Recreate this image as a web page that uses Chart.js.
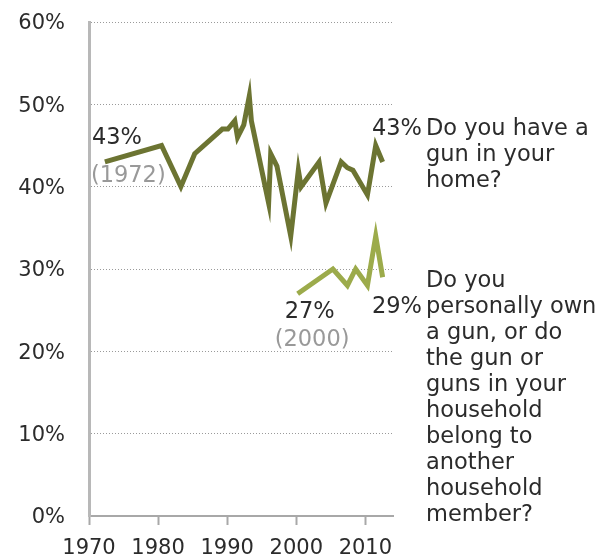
<!DOCTYPE html>
<html>
<head>
<meta charset="utf-8">
<script src="https://cdn.jsdelivr.net/npm/chart.js@4/dist/chart.umd.min.js"></script>
<style>
  html, body { margin: 0; padding: 0; background: #fff; }
  #wrap { width: 609px; height: 558px; position: relative; }
</style>
</head>
<body>
<div id="wrap"><canvas id="chart" width="609" height="558"></canvas></div>
<script>
// "Do you have a gun in your home?"
const homeYears  = [1972.3, 1980.5, 1983.3, 1985.3, 1989.3, 1990.1, 1991.1, 1991.5, 1992.4, 1993.2, 1993.5, 1996.0, 1996.3, 1997.2, 1999.2, 2000.3, 2000.7, 2003.3, 2004.3, 2006.5, 2007.4, 2008.2, 2010.3, 2011.5, 2012.5]
const homeValues = [43,     45,     40,     44,     47,     47,     48,     46,     47.5,   51,     48,     38,     44,     42.5,   34,     42,     40,     43,     38,     43,     42.3,   42,     39,     45,     43]

// "Do you personally own a gun, or ... another household member?"
const ownYears  = [2000.2, 2005.3, 2007.4, 2008.6, 2010.3, 2011.5, 2012.5]
const ownValues = [27,     30,     28,     30,     28,     34,     29]

const xTicks = [1970, 1980, 1990, 2000, 2010]
const yTicks = [0, 10, 20, 30, 40, 50, 60]

const homeQuestion = ['Do you have a', 'gun in your', 'home?']
const ownQuestion  = ['Do you', 'personally own', 'a gun, or do', 'the gun or', 'guns in your', 'household', 'belong to', 'another', 'household', 'member?']

const FONT = '"DejaVu Sans", Verdana, sans-serif'
const TEXT = '#2b2b2b'
const GREY_TEXT = '#999999'

const toPoints = (xs, ys) => xs.map((x, i) => ({ x, y: ys[i] }))

const annotations = {
  id: 'annotations',
  afterDatasetsDraw(chart) {
    const { ctx, scales: { x, y }, chartArea } = chart
    const line = 26
    ctx.save()
    ctx.font = `22.5px ${FONT}`
    ctx.textBaseline = 'alphabetic'

    // first/last values of the home series
    const hx0 = x.getPixelForValue(homeYears[0])
    const hy0 = y.getPixelForValue(homeValues[0])
    ctx.fillStyle = TEXT
    ctx.textAlign = 'left'
    ctx.fillText(`${homeValues[0]}%`, hx0 - 13, hy0 - 18)
    ctx.fillStyle = GREY_TEXT
    ctx.fillText(`(${Math.floor(homeYears[0])})`, hx0 - 14, hy0 + 20)

    // first value of the own series
    const ox0 = x.getPixelForValue(ownYears[0])
    const oy0 = y.getPixelForValue(ownValues[0])
    ctx.fillStyle = TEXT
    ctx.fillText(`${ownValues[0]}%`, ox0 - 13, oy0 + 24)
    ctx.fillStyle = GREY_TEXT
    ctx.fillText(`(${Math.floor(ownYears[0])})`, ox0 - 23, oy0 + 52)

    // right side: last values + questions
    const qx = chartArea.right + 33
    const homeBase = y.getPixelForValue(homeValues[homeValues.length - 1]) - 27
    const ownBase = y.getPixelForValue(ownValues[ownValues.length - 1]) + 36

    ctx.fillStyle = TEXT
    ctx.textAlign = 'right'
    ctx.fillText(`${homeValues[homeValues.length - 1]}%`, qx - 4, homeBase)
    ctx.fillText(`${ownValues[ownValues.length - 1]}%`, qx - 4, ownBase)

    ctx.textAlign = 'left'
    homeQuestion.forEach((t, i) => ctx.fillText(t, qx, homeBase + i * line))
    ownQuestion.forEach((t, i) => ctx.fillText(t, qx, ownBase - line + i * line))
    ctx.restore()
  }
}

new Chart(document.getElementById('chart'), {
  type: 'line',
  data: {
    datasets: [
      {
        data: toPoints(homeYears, homeValues),
        borderColor: '#6c7432',
        borderWidth: 5,
        borderJoinStyle: 'miter',
        pointRadius: 0,
        tension: 0,
      },
      {
        data: toPoints(ownYears, ownValues),
        borderColor: '#9cab4b',
        borderWidth: 5,
        borderJoinStyle: 'miter',
        pointRadius: 0,
        tension: 0,
      },
    ],
  },
  options: {
    responsive: false,
    animation: false,
    events: [],
    layout: { padding: { left: 0, right: 216, top: 22, bottom: 0 } },
    plugins: {
      legend: { display: false },
      tooltip: { enabled: false },
    },
    scales: {
      x: {
        type: 'linear',
        min: 1970,
        max: 2014,
        afterBuildTicks: (s) => { s.ticks = xTicks.map(v => ({ value: v })) },
        afterFit: (s) => { s.height = 42 },
        ticks: {
          color: TEXT,
          font: { family: FONT, size: 21 },
          padding: 11,
          maxRotation: 0,
          callback: (v) => String(v),
        },
        grid: {
          drawOnChartArea: false,
          drawTicks: true,
          tickLength: 9,
          tickWidth: 2,
          tickColor: '#a8a8a8',
        },
        border: { color: '#a8a8a8', width: 2 },
      },
      y: {
        min: 0,
        max: 60,
        afterBuildTicks: (s) => { s.ticks = yTicks.map(v => ({ value: v })) },
        afterFit: (s) => {
          s.width = 89
          s.paddingTop = 0
          s.paddingBottom = 0
        },
        ticks: {
          color: TEXT,
          font: { family: FONT, size: 21 },
          padding: 24,
          labelOffset: 2,
          callback: (v) => v + '%',
        },
        grid: {
          drawTicks: false,
          color: (c) => c.tick && c.tick.value === 0 ? 'rgba(0,0,0,0)' : '#9a9a9a',
          lineWidth: 1,
        },
        border: { color: '#b8b8b8', width: 3, dash: [1, 2] },
      },
    },
  },
  plugins: [annotations],
})
</script>
</body>
</html>
